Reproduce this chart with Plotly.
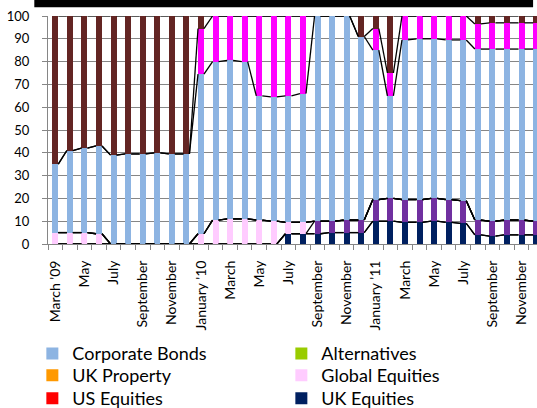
import plotly.graph_objects as go

# ---------------- data ----------------
months = ["Mar 09", "Apr 09", "May 09", "Jun 09", "Jul 09", "Aug 09", "Sep 09", "Oct 09",
          "Nov 09", "Dec 09", "Jan 10", "Feb 10", "Mar 10", "Apr 10", "May 10", "Jun 10",
          "Jul 10", "Aug 10", "Sep 10", "Oct 10", "Nov 10", "Dec 10", "Jan 11", "Feb 11",
          "Mar 11", "Apr 11", "May 11", "Jun 11", "Jul 11", "Aug 11", "Sep 11", "Oct 11",
          "Nov 11", "Dec 11"]
tick_labels = ["March '09", "May", "July", "September", "November", "January '10", "March",
               "May", "July", "September", "November", "January '11", "March", "May", "July",
               "September", "November"]

uk_equities = [0, 0, 0, 0, 0, 0, 0, 0, 0, 0, 0, 0, 0, 0, 0, 0, 4.5, 4.5, 4.5, 5, 5, 5,
               10, 10, 9.5, 9.5, 10, 9.5, 9, 4, 3.5, 4, 4, 4]
us_equities = [0] * 34
emerging = [0, 0, 0, 0, 0, 0, 0, 0, 0, 0, 0, 0, 0, 0, 0, 0, 0, 0, 5.5, 5, 5.5, 5.5,
            9.5, 10, 10, 10, 10, 10, 10, 6.5, 6.5, 6.5, 6.5, 6]
global_equities = [5, 5, 5, 4.5, 0, 0, 0, 0, 0, 0, 4.5, 10.5, 11, 11, 10.5, 10, 5, 5, 0, 0,
                   0, 0, 0, 0, 0, 0, 0, 0, 0, 0, 0, 0, 0, 0]
uk_property = [0] * 34
alternatives = [0] * 34
corporate_bonds = [30, 36, 37, 38.5, 39, 39.5, 39.5, 40, 39.5, 39.5, 70, 69.5, 69.5, 69, 54.5,
                   54.5, 55.5, 56.5, 90, 90, 89.5, 80.5, 65.5, 45, 70, 70.5, 70, 70, 70.5,
                   75, 75.5, 75, 75, 75.5]
gilts = [0, 0, 0, 0, 0, 0, 0, 0, 0, 0, 20, 20, 19.5, 20, 35, 35.5, 35, 34, 0, 0, 0, 0,
         9.5, 10, 10.5, 10, 10, 10.5, 10.5, 11, 11.5, 11.5, 11.5, 11.5]
cash = [65, 59, 58, 57, 61, 60.5, 60.5, 60, 60.5, 60.5, 5.5, 0, 0, 0, 0, 0, 0, 0, 0, 0, 0, 9,
        5.5, 25, 0, 0, 0, 0, 0, 3.5, 3, 3, 3, 3]

# stacking order bottom -> top: (name, values, colour, legend id or None)
series = [
    ("UK Equities", uk_equities, "#002060", "legend3"),
    ("US Equities", us_equities, "#FF0000", "legend3"),
    ("Emerging Markets", emerging, "#7030A0", None),
    ("Global Equities", global_equities, "#FFCCFF", "legend2"),
    ("UK Property", uk_property, "#FF9900", "legend2"),
    ("Alternatives", alternatives, "#99CC00", "legend"),
    ("Corporate Bonds", corporate_bonds, "#8DB4E2", "legend"),
    ("Gilts", gilts, "#FF00FF", None),
    ("Cash", cash, "#632523", None),
]

# ---------------- figure ----------------
x = list(range(len(months)))
bar_w = 0.41
hw = bar_w / 2

fig = go.Figure()
for name, vals, col, leg in series:
    fig.add_trace(go.Bar(
        x=x, y=vals, width=bar_w, name=name, marker=dict(color=col, line=dict(width=0)),
        showlegend=leg is not None, legend=leg if leg else "legend",
        hovertext=months,
    ))

# series lines (connect segment tops between neighbouring bars)
cum = [0.0] * len(x)
lx, ly = [], []
for name, vals, col, leg in series:
    cum = [c + v for c, v in zip(cum, vals)]
    for i in range(len(x) - 1):
        lx += [x[i] + hw, x[i + 1] - hw, None]
        ly += [cum[i], cum[i + 1], None]
fig.add_trace(go.Scatter(x=lx, y=ly, mode="lines", line=dict(color="black", width=1.3),
                         showlegend=False, hoverinfo="skip"))

grey = "#868686"


def legend_row(ypos):
    return dict(
        orientation="h", x=-0.032, xanchor="left", y=ypos, yanchor="top",
        entrywidth=204, entrywidthmode="pixels", itemwidth=30,
        font=dict(size=18, family="Lato", color="black"), traceorder="reversed",
        bgcolor="rgba(0,0,0,0)",
    )


fig.update_layout(
    width=537, height=408,
    margin=dict(l=48, r=0, t=16, b=164, autoexpand=False),
    barmode="stack",
    paper_bgcolor="white", plot_bgcolor="white",
    font=dict(family="Lato", color="black", size=14),
    xaxis=dict(
        range=[-0.5, 33.06], tickmode="array", tickvals=x[::2], ticktext=tick_labels,
        tickangle=-90, ticks="", showgrid=False, zeroline=False, automargin=False,
        showline=True, linecolor=grey, linewidth=1,
        tickfont=dict(size=14), ticklabelstandoff=10,
        minor=dict(tickmode="linear", tick0=-0.5, dtick=1, ticks="outside", ticklen=5,
                   tickcolor=grey, showgrid=False),
    ),
    yaxis=dict(
        range=[0, 100], dtick=10, ticks="outside", ticklen=5, tickcolor=grey,
        showgrid=True, gridcolor=grey, gridwidth=1, zeroline=False, automargin=False,
        showline=True, linecolor=grey, linewidth=1,
        tickfont=dict(size=13), ticklabelstandoff=10,
    ),
    legend=legend_row(-0.40),
    legend2=legend_row(-0.496),
    legend3=legend_row(-0.597),
    shapes=[dict(type="rect", xref="paper", yref="paper", x0=-0.028, x1=0.992,
                 y0=1.038, y1=1.075, fillcolor="black", line=dict(width=0))],
)

fig.write_html("out.html", config={"displayModeBar": False},
               post_script="document.body.style.margin='0';")
